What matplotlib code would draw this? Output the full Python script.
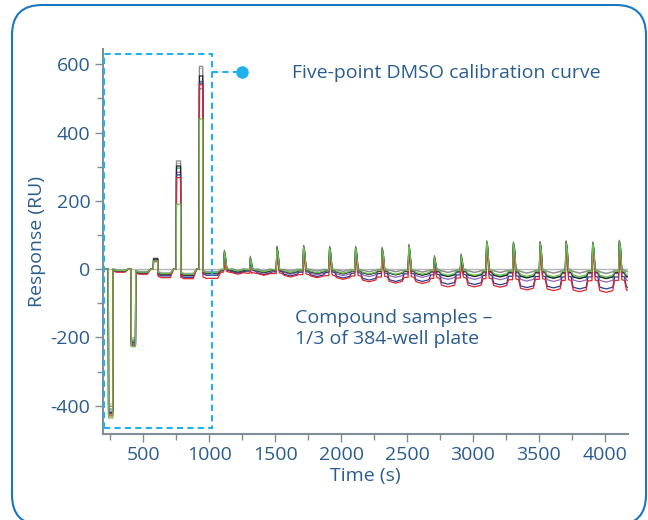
import numpy as np
import matplotlib
matplotlib.use('Agg')
import matplotlib.pyplot as plt
from matplotlib.patches import Rectangle, FancyBboxPatch
from matplotlib.ticker import MultipleLocator

# calibration injections (s) and response levels (RU)
cal_start = [235, 407, 576, 750, 924]
cal_end = [271, 443, 612, 785, 953]

# compound sample cycles
cmp_start = [1109, 1306, 1508, 1710, 1907, 2104, 2306, 2508, 2702, 2904, 3098, 3301, 3503, 3700, 3902, 4104]
cmp_peak = [56, 38, 67, 70, 67, 67, 64, 72, 40, 45, 83, 80, 81, 83, 80, 85]

trace_names = ['light gray', 'gray', 'teal', 'purple', 'black', 'navy', 'red', 'green']
trace_colors = ['#c4c4c4', '#8c8c8c', '#2a9d98', '#9467bd', '#262626', '#2f3d8f', '#e3262d', '#6cc04a']

cal_level = [
    [-395, -200, 31, 310, 588],
    [-402, -205, 32, 317, 594],
    [-410, -210, 27, 296, 528],
    [-416, -218, 28, 284, 550],
    [-424, -214, 30, 302, 566],
    [-420, -222, 25, 276, 545],
    [-430, -225, 22, 268, 540],
    [-436, -227, 24, 190, 440],
]
cal_dip = [
    [-2, -6, -10, -12, -6],
    [-3, -8, -12, -14, -8],
    [-4, -10, -14, -16, -11],
    [-6, -12, -18, -20, -14],
    [-5, -10, -15, -18, -12],
    [-7, -13, -20, -24, -18],
    [-9, -15, -25, -28, -27],
    [-4, -9, -13, -15, -10],
]

cmp_offset = [-4, 0, -10, -8, -5, -13, -35, -6]
cmp_base = [
    [0, 0, -1, 0, -1, -1, 0, -1, -1, 0, -1, -1, -1, 0, -1, -1],
    [-1, -1, -2, -1, -2, -2, -2, -3, -2, -2, -3, -3, -3, -3, -4, -3],
    [-2, -3, -3, -4, -4, -5, -5, -5, -6, -6, -7, -7, -8, -8, -8, -8],
    [-3, -4, -5, -5, -6, -7, -8, -8, -10, -10, -11, -12, -12, -13, -13, -13],
    [-2, -3, -3, -4, -4, -5, -6, -6, -7, -7, -8, -9, -9, -10, -10, -10],
    [-5, -6, -8, -9, -10, -12, -13, -14, -17, -17, -18, -21, -22, -23, -23, -23],
    [-9, -12, -13, -16, -19, -20, -23, -24, -27, -26, -28, -31, -30, -33, -34, -33],
    [-1, -2, -2, -3, -3, -4, -4, -4, -5, -5, -5, -6, -6, -7, -7, -7],
]
cmp_dip = [
    [-3, -4, -5, -5, -6, -7, -7, -8, -9, -9, -9, -11, -11, -11, -12, -11],
    [-4, -5, -6, -6, -7, -8, -8, -9, -10, -10, -10, -12, -12, -12, -13, -12],
    [-7, -9, -11, -12, -13, -15, -16, -17, -20, -21, -21, -24, -25, -26, -26, -25],
    [-10, -12, -15, -17, -19, -22, -24, -24, -30, -30, -31, -35, -36, -37, -38, -37],
    [-8, -10, -12, -13, -14, -16, -17, -18, -22, -22, -23, -26, -27, -28, -28, -27],
    [-12, -16, -20, -22, -26, -32, -36, -36, -44, -45, -46, -54, -55, -58, -58, -57],
    [-15, -18, -23, -25, -30, -37, -41, -42, -52, -52, -53, -61, -63, -66, -68, -66],
    [-6, -8, -10, -11, -12, -14, -15, -15, -18, -18, -18, -21, -22, -22, -23, -22],
]

text_blue = '#2a5d8f'
axis_gray = '#808d96'
cyan = '#1fb1ea'
fs = 14


def build_trace(k):
    t = [195, cal_start[0]]
    y = [0, 0]
    for i in range(len(cal_start)):
        ts, te = cal_start[i], cal_end[i]
        lv, dp = cal_level[k][i], cal_dip[k][i]
        if i < len(cal_start) - 1:
            nxt, nb = cal_start[i + 1], 0
        else:
            nxt, nb = cmp_start[0], cmp_base[k][0]
        t += [ts + 2, te - 2, te, te + 25, nxt - 45, nxt - 20, nxt]
        y += [lv, lv, dp + 4, dp, dp, nb, nb]
    for i, ts in enumerate(cmp_start):
        b = cmp_base[k][i]
        p = cmp_peak[i] + cmp_offset[k]
        d = cmp_dip[k][i]
        nb = cmp_base[k][i + 1] if i < len(cmp_start) - 1 else b
        t += [ts, ts + 6, ts + 14, ts + 25, ts + 45, ts + 60, ts + 108, ts + 158, ts + 172]
        y += [b, p, p - 15, b + 2, b, d + 5, d, d + 5, nb]
    return t, y


plt.rcParams['font.family'] = ['Open Sans', 'DejaVu Sans']
plt.rcParams['axes.unicode_minus'] = False

fig = plt.figure(figsize=(6.48, 5.2), dpi=100)
ax = fig.add_axes([0.159, 0.1654, 0.81, 0.7404])

ax.axhline(0, color='#b5b5b5', lw=1, zorder=1)
for k in range(len(trace_names)):
    t, y = build_trace(k)
    ax.plot(t, y, color=trace_colors[k], lw=0.9, zorder=2)

ax.set_xlim(195, 4175)
ax.set_ylim(-483, 645)
ax.set_xticks([500, 1000, 1500, 2000, 2500, 3000, 3500, 4000])
ax.set_yticks([-400, -200, 0, 200, 400, 600])
ax.xaxis.set_minor_locator(MultipleLocator(250))
ax.yaxis.set_minor_locator(MultipleLocator(100))

for s in ['top', 'right']:
    ax.spines[s].set_visible(False)
for s in ['left', 'bottom']:
    ax.spines[s].set_color(axis_gray)
    ax.spines[s].set_linewidth(1.5)
ax.tick_params(which='major', length=6, width=1, color=axis_gray, labelcolor=text_blue,
               labelsize=fs, pad=3)
ax.tick_params(which='minor', length=4, width=1, color=axis_gray)

ax.set_xlabel('Time (s)', color=text_blue, fontsize=fs, labelpad=2)
ax.set_ylabel('Response (RU)', color=text_blue, fontsize=fs, labelpad=3)

# calibration box and callout
ax.add_patch(Rectangle((203, -465), 818, 1095, fill=False, edgecolor=cyan, lw=1.5,
                       linestyle=(0, (3, 2)), zorder=3, clip_on=False))
ax.plot([1021, 1249], [578, 578], color=cyan, lw=1.5, linestyle=(0, (3, 2)), zorder=3)
ax.plot([1249], [578], 'o', color=cyan, markersize=8, zorder=4)

fig.text(0.4506, 0.8596, 'Five-point DMSO calibration curve', color=text_blue,
         fontsize=fs, va='center', ha='left')
fig.text(0.455, 0.406, 'Compound samples \u2013\n1/3 of 384-well plate', color=text_blue,
         fontsize=fs, va='top', ha='left', linespacing=1.2)

# rounded frame
frame = FancyBboxPatch((0.12, -0.05), 6.34, 5.20, boxstyle='round,pad=0,rounding_size=0.3',
                       transform=fig.dpi_scale_trans, fill=False, edgecolor='#1b76c4',
                       lw=1.5, clip_on=False)
fig.patches.append(frame)

fig.savefig('out.png', dpi=100)
